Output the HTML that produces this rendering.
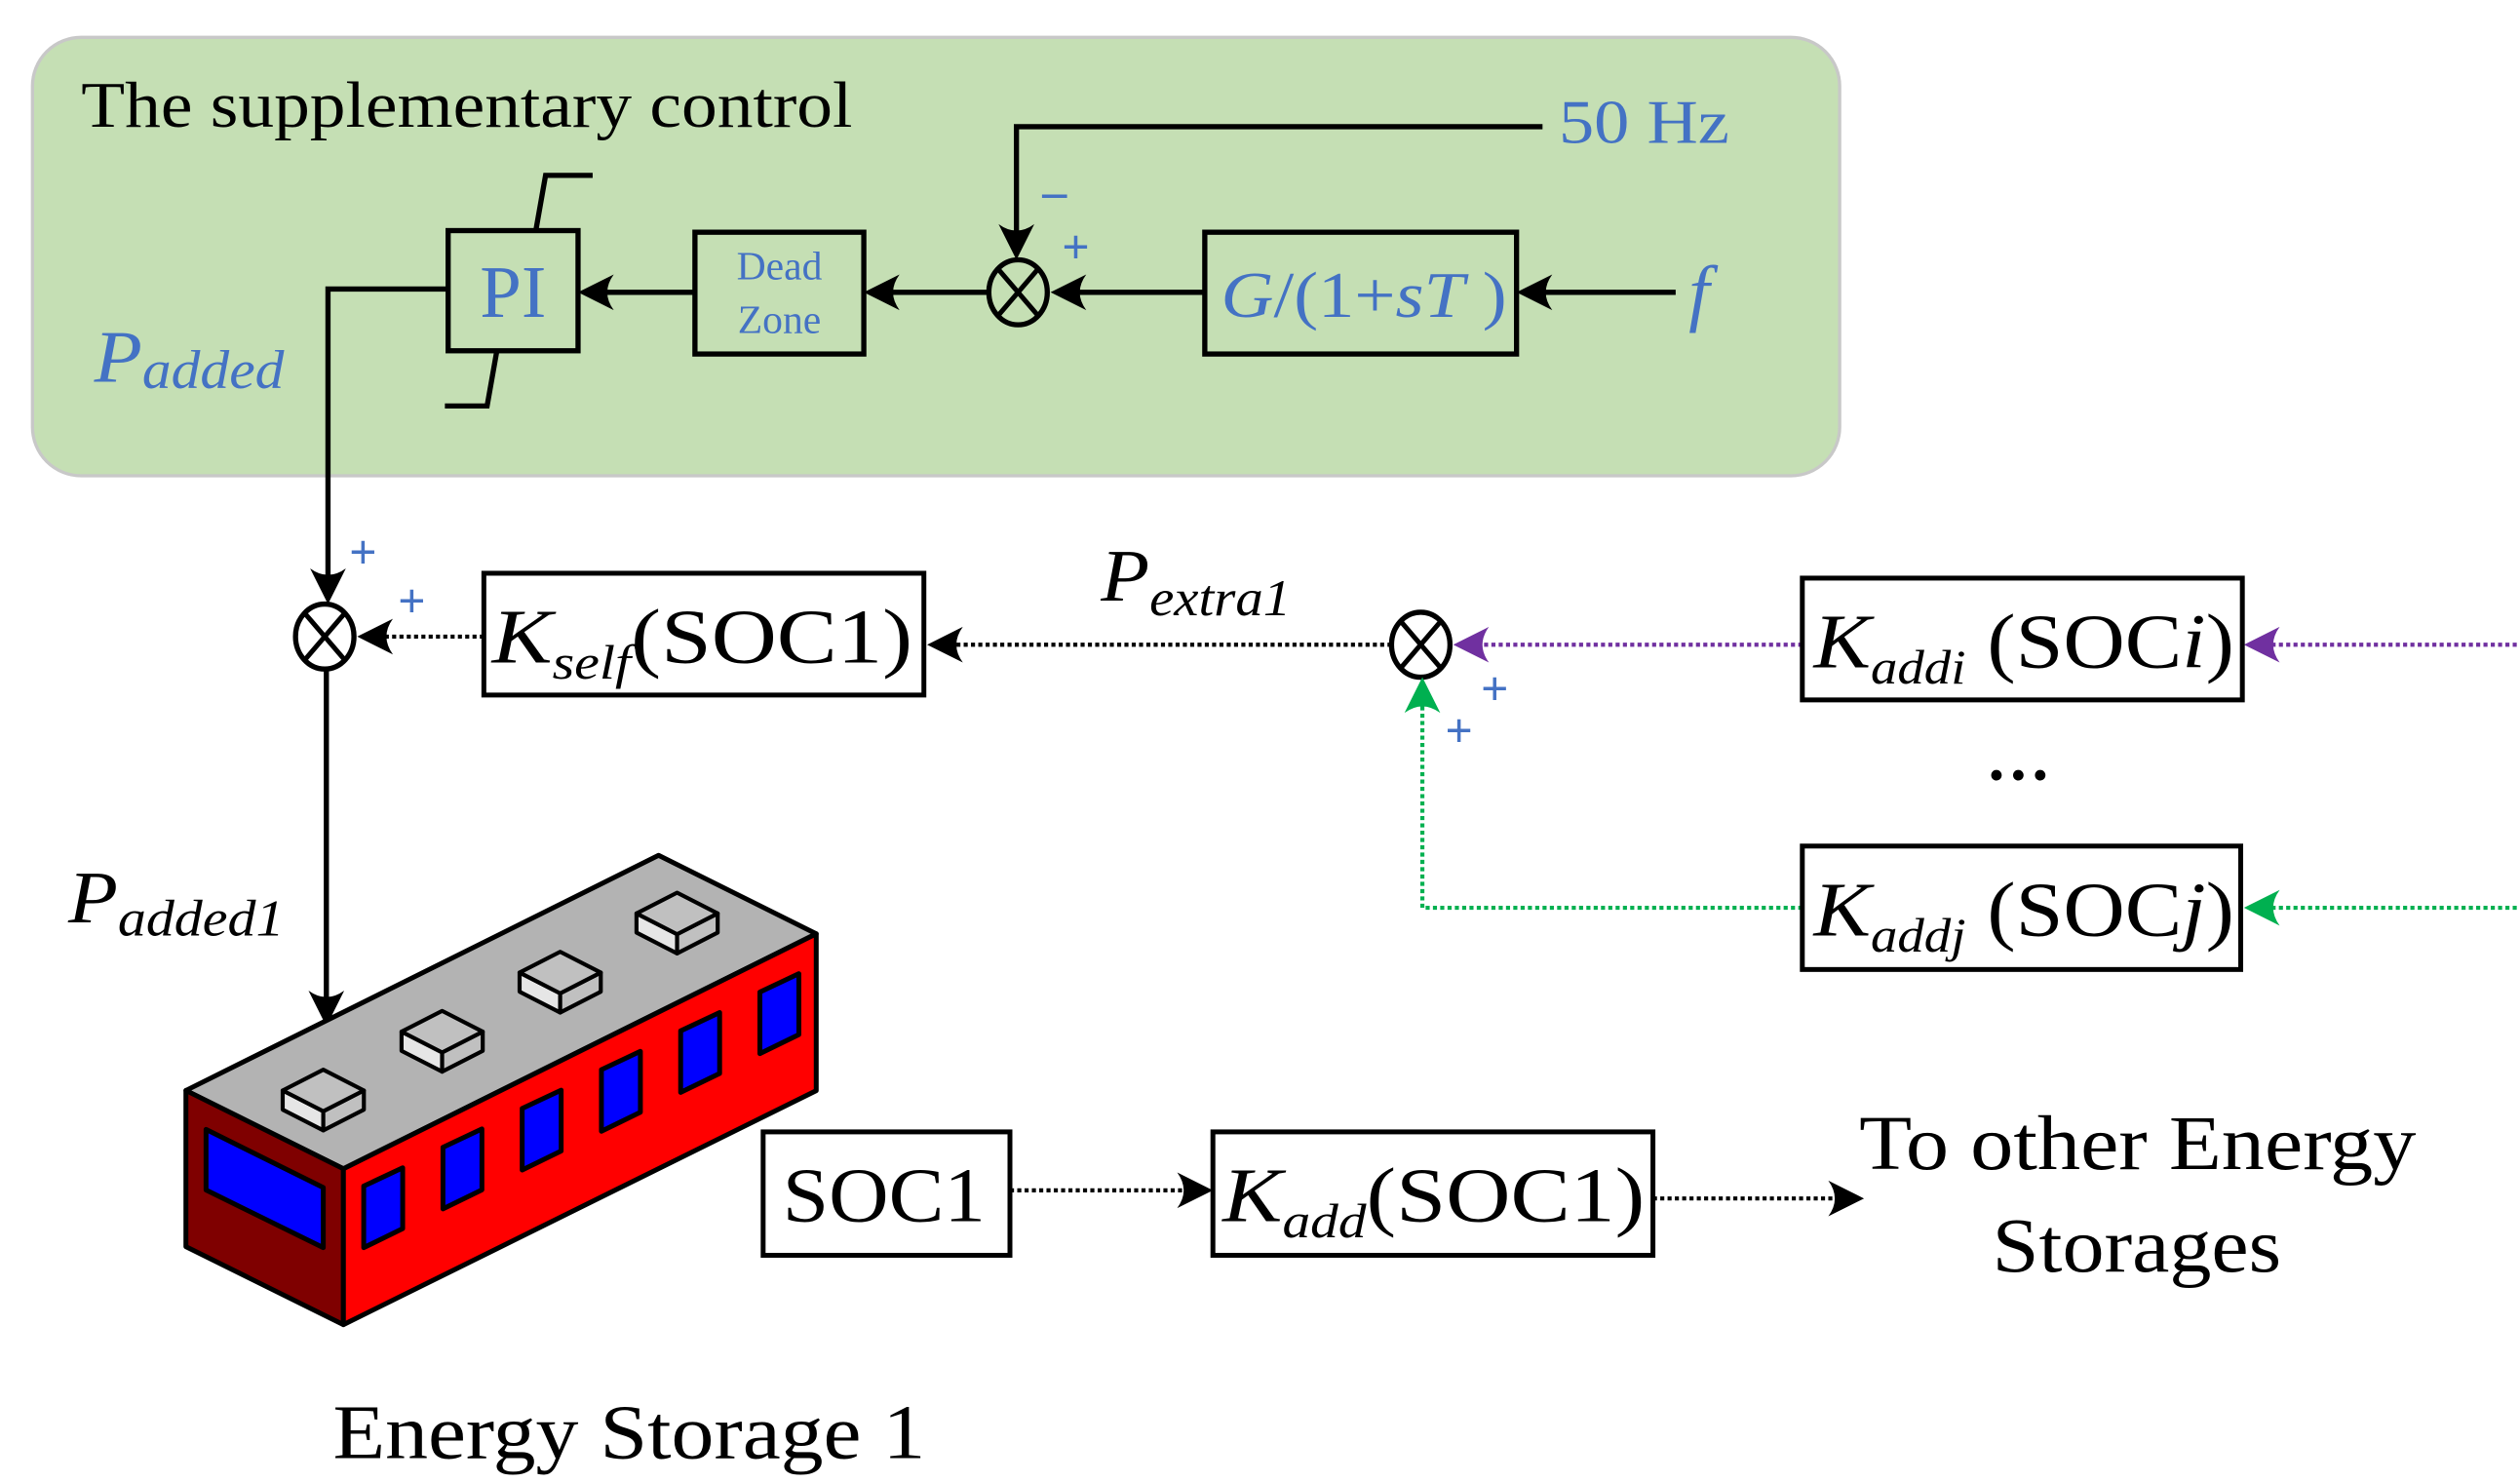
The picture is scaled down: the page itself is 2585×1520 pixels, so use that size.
<!DOCTYPE html>
<html><head><meta charset="utf-8"><style>
html,body{margin:0;padding:0;background:#fff;}
svg{display:block;}
svg text{font-family:"Liberation Serif","Times New Roman",serif !important;}
</style></head><body>
<svg width="2585" height="1520" viewBox="0 0 1552 912.6" preserveAspectRatio="none" xmlns="http://www.w3.org/2000/svg" font-family="Liberation Serif, serif">
<defs>
<path id="ah" d="M0 0 L-22 -11 Q-14 0 -22 11 Z"/>
</defs>
<rect x="20" y="23" width="1113" height="270" rx="30" fill="#c5dfb4" stroke="#c8c8c8" stroke-width="2"/>
<text x="50" y="78" font-size="40" fill="#000" textLength="475" lengthAdjust="spacingAndGlyphs">The supplementary control</text>

<rect x="276" y="142" width="80" height="74" fill="none" stroke="#000" stroke-width="3.2"/>
<text x="316" y="195" font-size="46" fill="#4472c4" text-anchor="middle">PI</text>
<polyline points="330,142 336,108 365,108" fill="none" stroke="#000" stroke-width="3.2"/>
<polyline points="306,216 300,250 274,250" fill="none" stroke="#000" stroke-width="3.2"/>
<rect x="428" y="143" width="104" height="75" fill="none" stroke="#000" stroke-width="3.2"/>
<text x="480" y="172" font-size="25" fill="#4472c4" text-anchor="middle">Dead</text>
<text x="480" y="205" font-size="25" fill="#4472c4" text-anchor="middle">Zone</text>
<rect x="742" y="143" width="192" height="75" fill="none" stroke="#000" stroke-width="3.2"/>
<text x="752" y="195" font-size="40" fill="#4472c4" textLength="176" lengthAdjust="spacingAndGlyphs"><tspan font-style="italic">G</tspan>/(1+<tspan font-style="italic">sT</tspan> )</text>
<text x="1040" y="195" font-size="46" fill="#4472c4" font-style="italic">f</text>
<text x="960" y="88" font-size="38" fill="#4472c4" textLength="105" lengthAdjust="spacingAndGlyphs">50 Hz</text>
<text x="642" y="128" font-size="30" fill="#4472c4" font-weight="bold">–</text>
<text x="654" y="162" font-size="30" fill="#4472c4" font-weight="bold">+</text>

<ellipse cx="627" cy="180" rx="18" ry="20" fill="none" stroke="#000" stroke-width="3.2"/>
<line x1="615" y1="166" x2="639" y2="194" stroke="#000" stroke-width="3"/>
<line x1="639" y1="166" x2="615" y2="194" stroke="#000" stroke-width="3"/>

<g stroke="#000" stroke-width="3.2" fill="none">
<line x1="1032" y1="180" x2="945" y2="180"/>
<line x1="742" y1="180" x2="660" y2="180"/>
<line x1="609" y1="180" x2="545" y2="180"/>
<line x1="428" y1="180" x2="368" y2="180"/>
<polyline points="950,78 626,78 626,145"/>
<polyline points="276,178 202,178 202,358"/>
<line x1="201" y1="412" x2="201" y2="615"/>
</g>
<use href="#ah" transform="translate(934,180) rotate(180)"/>
<use href="#ah" transform="translate(647,180) rotate(180)"/>
<use href="#ah" transform="translate(532,180) rotate(180)"/>
<use href="#ah" transform="translate(356,180) rotate(180)"/>
<use href="#ah" transform="translate(626,160) rotate(90)"/>
<use href="#ah" transform="translate(202,372) rotate(90)"/>
<use href="#ah" transform="translate(201,632) rotate(90)"/>

<text x="58" y="235" font-size="46" fill="#4472c4" font-style="italic" textLength="117" lengthAdjust="spacingAndGlyphs">P<tspan font-size="34" dy="4">added</tspan></text>

<ellipse cx="200" cy="392" rx="18" ry="20" fill="none" stroke="#000" stroke-width="3.2"/>
<line x1="188" y1="378" x2="212" y2="406" stroke="#000" stroke-width="3"/>
<line x1="212" y1="378" x2="188" y2="406" stroke="#000" stroke-width="3"/>
<text x="215" y="350" font-size="30" fill="#4472c4" font-weight="bold">+</text>
<text x="245" y="380" font-size="30" fill="#4472c4" font-weight="bold">+</text>

<rect x="298" y="353" width="271" height="75" fill="#fff" stroke="#000" stroke-width="3"/>
<text x="303" y="408" font-size="48" fill="#000" textLength="259" lengthAdjust="spacingAndGlyphs"><tspan font-style="italic">K</tspan><tspan font-style="italic" font-size="30" dy="10">self</tspan><tspan dy="-10">(SOC1)</tspan></text>
<g stroke="#000" stroke-width="2.5" stroke-dasharray="2.5 2" fill="none">
<line x1="298" y1="392" x2="235" y2="392"/>
<line x1="857" y1="397" x2="585" y2="397"/>
<line x1="622" y1="733" x2="732" y2="733"/>
<line x1="1018" y1="738" x2="1132" y2="738"/>
</g>
<use href="#ah" transform="translate(220,392) rotate(180)"/>
<use href="#ah" transform="translate(571,397) rotate(180)"/>
<use href="#ah" transform="translate(747,733)"/>
<use href="#ah" transform="translate(1148,738)"/>
<text x="678" y="370" font-size="46" fill="#000" font-style="italic" textLength="117" lengthAdjust="spacingAndGlyphs">P<tspan font-size="32" dy="9">extra1</tspan></text>

<ellipse cx="875" cy="397" rx="18" ry="20" fill="none" stroke="#000" stroke-width="3.2"/>
<line x1="863" y1="383" x2="887" y2="411" stroke="#000" stroke-width="3"/>
<line x1="887" y1="383" x2="863" y2="411" stroke="#000" stroke-width="3"/>
<text x="912" y="434" font-size="30" fill="#4472c4" font-weight="bold">+</text>
<text x="890" y="460" font-size="30" fill="#4472c4" font-weight="bold">+</text>

<g stroke="#7030a0" stroke-width="2.5" stroke-dasharray="2.5 2" fill="none">
<line x1="1110" y1="397" x2="912" y2="397"/>
<line x1="1550" y1="397" x2="1398" y2="397"/>
</g>
<use href="#ah" transform="translate(895,397) rotate(180)" fill="#7030a0"/>
<use href="#ah" transform="translate(1382,397) rotate(180)" fill="#7030a0"/>
<g stroke="#00b050" stroke-width="2.5" stroke-dasharray="2.5 2" fill="none">
<line x1="1550" y1="559" x2="1398" y2="559"/>
<polyline points="1110,559 876,559 876,433"/>
</g>
<use href="#ah" transform="translate(1382,559) rotate(180)" fill="#00b050"/>
<use href="#ah" transform="translate(876,417) rotate(-90)" fill="#00b050"/>

<rect x="1110" y="356" width="271" height="75" fill="#fff" stroke="#000" stroke-width="3"/>
<text x="1117" y="411" font-size="48" fill="#000" textLength="259" lengthAdjust="spacingAndGlyphs"><tspan font-style="italic">K</tspan><tspan font-style="italic" font-size="30" dy="10">addi</tspan><tspan dy="-10"> (SOC</tspan><tspan font-style="italic">i</tspan>)</text>
<text x="1243" y="480" font-size="40" fill="#000" text-anchor="middle" font-weight="bold">…</text>
<rect x="1110" y="521" width="270" height="76" fill="#fff" stroke="#000" stroke-width="3"/>
<text x="1117" y="576" font-size="48" fill="#000" textLength="259" lengthAdjust="spacingAndGlyphs"><tspan font-style="italic">K</tspan><tspan font-style="italic" font-size="30" dy="10">addj</tspan><tspan dy="-10"> (SOC</tspan><tspan font-style="italic">j</tspan>)</text>

<text x="42" y="568" font-size="46" fill="#000" font-style="italic" textLength="133" lengthAdjust="spacingAndGlyphs">P<tspan font-size="32" dy="8">added1</tspan></text>

<g stroke="#000" stroke-width="3" stroke-linejoin="round">
<polygon points="114.5,671.5 405.6,526.7 502.7,575 211.5,719.7" fill="#b3b3b3"/>
<polygon points="114.5,671.5 211.5,719.7 211.5,815.7 114.5,767.7" fill="#7f0000"/>
<polygon points="211.5,719.7 502.7,575 502.7,671.6 211.5,815.7" fill="#ff0000"/>
<polygon points="126.9,695.5 199.1,731.3 199.1,768.3 126.9,732.8" fill="#0000ff"/>
<polygon points="224,730.4 248,719.1 248,756.6 224,768.3" fill="#0000ff"/>
<polygon points="272.8,706.5 296.8,695.2 296.8,732.7 272.8,744.4" fill="#0000ff"/>
<polygon points="321.6,682.6 345.6,671.3 345.6,708.8 321.6,720.5" fill="#0000ff"/>
<polygon points="370.4,658.7 394.4,647.4 394.4,684.9 370.4,696.6" fill="#0000ff"/>
<polygon points="419.2,634.8 443.2,623.5 443.2,661 419.2,672.7" fill="#0000ff"/>
<polygon points="468,610.9 492,599.6 492,637.1 468,648.8" fill="#0000ff"/>
</g>
<g stroke="#000" stroke-width="2.5" stroke-linejoin="round">
<g transform="translate(199.1,671.5)">
<polygon points="-25,0 0,12.8 0,24.6 -25,11.8" fill="#e6e6e6"/><polygon points="25,0 0,12.8 0,24.6 25,11.8" fill="#c0c0c0"/><polygon points="-25,0 0,-12.8 25,0 0,12.8" fill="#c0c0c0"/></g>
<g transform="translate(272.3,635.3)">
<polygon points="-25,0 0,12.8 0,24.6 -25,11.8" fill="#e6e6e6"/><polygon points="25,0 0,12.8 0,24.6 25,11.8" fill="#c0c0c0"/><polygon points="-25,0 0,-12.8 25,0 0,12.8" fill="#c0c0c0"/></g>
<g transform="translate(345,598.9)">
<polygon points="-25,0 0,12.8 0,24.6 -25,11.8" fill="#e6e6e6"/><polygon points="25,0 0,12.8 0,24.6 25,11.8" fill="#c0c0c0"/><polygon points="-25,0 0,-12.8 25,0 0,12.8" fill="#c0c0c0"/></g>
<g transform="translate(417,562.5)">
<polygon points="-25,0 0,12.8 0,24.6 -25,11.8" fill="#e6e6e6"/><polygon points="25,0 0,12.8 0,24.6 25,11.8" fill="#c0c0c0"/><polygon points="-25,0 0,-12.8 25,0 0,12.8" fill="#c0c0c0"/></g>
</g>

<rect x="470" y="697" width="152" height="76" fill="#fff" stroke="#000" stroke-width="3"/>
<text x="482" y="752" font-size="48" fill="#000" textLength="125" lengthAdjust="spacingAndGlyphs">SOC1</text>
<rect x="747" y="697" width="271" height="76" fill="#fff" stroke="#000" stroke-width="3"/>
<text x="753" y="752" font-size="48" fill="#000" textLength="260" lengthAdjust="spacingAndGlyphs"><tspan font-style="italic">K</tspan><tspan font-style="italic" font-size="30" dy="10">add</tspan><tspan dy="-10">(SOC1)</tspan></text>

<text x="1145" y="720" font-size="48" fill="#000" textLength="343" lengthAdjust="spacingAndGlyphs">To other Energy</text>
<text x="1227" y="783" font-size="48" fill="#000" textLength="178" lengthAdjust="spacingAndGlyphs">Storages</text>
<text x="205" y="898" font-size="48" fill="#000" textLength="365" lengthAdjust="spacingAndGlyphs">Energy Storage 1</text>
</svg>
</body></html>
